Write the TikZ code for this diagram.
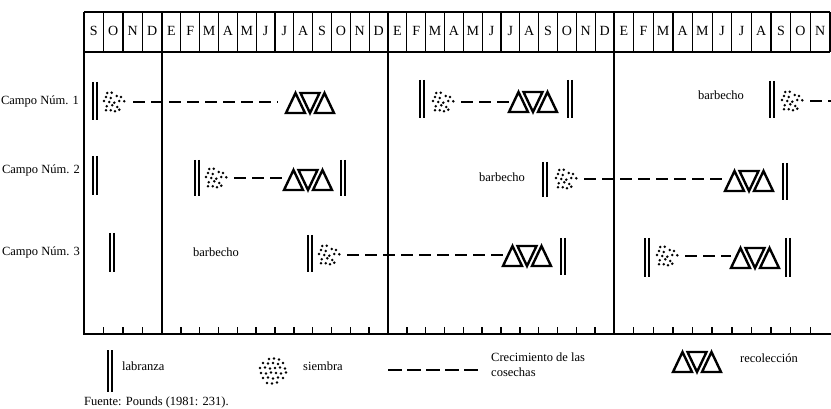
\documentclass[tikz,border=0pt]{standalone}
\usepackage{fontspec}
\setmainfont{Liberation Serif}
\begin{document}
\begin{tikzpicture}[x=1pt,y=-1pt,
  frame/.style={line width=1.6pt},
  yearline/.style={line width=2pt},
  cellline/.style={line width=1.2pt},
  tickline/.style={line width=1.4pt},
  growth/.style={line width=2.3pt, dash pattern=on 12pt off 6pt},
  lbl/.style={font=\fontsize{12.5}{15}\selectfont, inner sep=0pt},
  mon/.style={font=\fontsize{14}{16}\selectfont, inner sep=0pt},
  sowbox/.style={minimum width=36pt, minimum height=22pt, inner sep=0pt},
  tribox/.style={minimum width=48pt, minimum height=20pt, inner sep=0pt},
  pics/laya/.style={code={\draw[line width=1.6pt] (-1.9,0) -- (-1.9,#1) (1.9,0) -- (1.9,#1);}},
  pics/sow/.style={code={\foreach \p in {(-6.7,-9),(-2.3,-9.3),(-8,-5),(-3.3,-4),(2.7,-6),(7,-5),(-10,-1),(-4.7,0),(0.3,0.7),(5.3,-1),(10.3,-0.7),(-7.3,4.3),(-1.7,3.3),(3.3,5),(-8,8.3),(-3.3,8.3),(1,9.3),(5.3,7.7)} \fill \p circle[radius=1.4pt];}},
  pics/sowround/.style={code={\foreach \p in {(-4,-12),(1,-12.5),(6,-11.5),(-10,-8),(-5,-7.5),(0,-8),(5,-7),(10,-8),(-13,-3),(-8,-3.5),(-3,-2.5),(2,-3),(7,-3.5),(12,-2.5),(-12,2),(-7,2.5),(-2,1.5),(3,2),(8,2.5),(13,1.5),(-10,7),(-5,6.5),(0,7.5),(5,6.5),(10,7),(-6,12),(-1,12.5),(4,11.5)} \fill \p circle[radius=1.4pt];}},
  pics/tri/.style={code={\draw[line width=2.4pt, line join=miter]
     (-24,10) -- (-14.5,-10) -- (-5,10) -- cycle
     (-9.5,-10) -- (9.5,-10) -- (0,10) -- cycle
     (5,10) -- (14.5,-10) -- (24,10) -- cycle;}}
]
\useasboundingbox (0,0) rectangle (831,409);

% ---------- frame ----------
\draw[frame] (84,12) -- (830,12);
\draw[frame] (84,52) -- (830,52);
\draw[frame] (830,12) -- (830,52);
\draw[frame] (84,12) -- (84,334);
\draw[frame] (83,334) -- (831,334);
\foreach \x in {162,388,614} \draw[yearline] (\x,12) -- (\x,334);

% ---------- months header and bottom ticks ----------
\foreach \a/\b/\n/\ms [count=\s] in {84/162/4/{S,O,N,D},
    162/388/12/{E,F,M,A,M,J,J,A,S,O,N,D},
    388/614/12/{E,F,M,A,M,J,J,A,S,O,N,D},
    614/830/11/{E,F,M,A,M,J,J,A,S,O,N}}{
  \foreach \m [count=\i] in \ms {
    \node[mon] (h-\s-\i) at ({\a+(\i-0.5)*(\b-\a)/\n},31) {\m};
    \ifnum\i<\n
      \draw[cellline] ({\a+\i*(\b-\a)/\n},12) -- ({\a+\i*(\b-\a)/\n},52);
      \draw[tickline] ({\a+\i*(\b-\a)/\n},327) -- ({\a+\i*(\b-\a)/\n},334);
    \fi
  }
}

% ---------- row labels ----------
\node[lbl, anchor=east] (c1) at (79,101) {Campo Núm. 1};
\node[lbl, anchor=east] (c2) at (80,170) {Campo Núm. 2};
\node[lbl, anchor=east] (c3) at (80,252) {Campo Núm. 3};

% ---------- Row 1 ----------
\pic (b11) at (95,82) {laya=38};
\node[sowbox] (s11) at (114,102) {}; \pic at (s11) {sow};
\node[tribox] (t11) at (310,103) {}; \pic at (t11) {tri};
\draw[growth, shorten >=8pt, shorten <=1pt] (s11.east) -- (s11.east -| t11.west);
\pic (b12) at (422,80) {laya=38};
\node[sowbox] (s12) at (443,102) {}; \pic at (s12) {sow};
\node[tribox] (t12) at (533,102) {}; \pic at (t12) {tri};
\draw[growth] (s12.east) -- (s12.east -| t12.west);
\pic (b13) at (570,80) {laya=38};
\node[lbl] (bb1) at (721,95) {barbecho};
\pic (b14) at (772,81) {laya=37};
\node[sowbox] (s13) at (792,101) {}; \pic at (s13) {sow};
\coordinate (r1end) at (831,101);
\draw[growth] (s13.east) -- (r1end);

% ---------- Row 2 ----------
\pic (b21) at (95,156) {laya=39};
\pic (b22) at (197,160) {laya=36};
\node[sowbox] (s21) at (216,178) {}; \pic at (s21) {sow};
\node[tribox] (t21) at (308,180) {}; \pic at (t21) {tri};
\draw[growth] (s21.east) -- (s21.east -| t21.west);
\pic (b23) at (343,160) {laya=36};
\node[lbl] (bb2) at (502,177) {barbecho};
\pic (b24) at (545,162) {laya=35};
\node[sowbox] (s22) at (566,179) {}; \pic at (s22) {sow};
\node[tribox] (t22) at (749,181) {}; \pic at (t22) {tri};
\draw[growth] (s22.east) -- (s22.east -| t22.west);
\pic (b25) at (785,163) {laya=37};

% ---------- Row 3 ----------
\pic (b31) at (112,233) {laya=39};
\node[lbl] (bb3) at (216,252) {barbecho};
\pic (b32) at (310,235) {laya=37};
\node[sowbox] (s31) at (329,255) {}; \pic at (s31) {sow};
\node[tribox] (t31) at (527,256) {}; \pic at (t31) {tri};
\draw[growth] (s31.east) -- (s31.east -| t31.west);
\pic (b33) at (563,238) {laya=37};
\pic (b34) at (647,238) {laya=39};
\node[sowbox] (s32) at (667,256) {}; \pic at (s32) {sow};
\node[tribox] (t32) at (755,258) {}; \pic at (t32) {tri};
\draw[growth] (s32.east) -- (s32.east -| t32.west);
\pic (b35) at (788,238) {laya=39};

% ---------- legend ----------
\pic (lb) at (110,350) {laya=42};
\node[lbl, anchor=west] (l1) at (122,366) {labranza};
\node[minimum size=30pt, inner sep=0pt] (ls) at (273,371) {}; \pic at (ls) {sowround};
\node[lbl, anchor=west] (l2) at (303,366) {siembra};
\coordinate (lda) at (388,370);
\coordinate (ldb) at (481,370);
\draw[growth, dash pattern=on 14pt off 5pt] (lda) -- (ldb);
\node[lbl, anchor=west, align=left] (l3) at (491,365) {Crecimiento de las\\cosechas};
\node[tribox] (lt) at (697,362) {}; \pic at (lt) {tri};
\node[lbl, anchor=west] (l4) at (740,358) {recolección};

\node[lbl, anchor=west] (src) at (84,402) {Fuente: Pounds (1981: 231).};
\end{tikzpicture}
\end{document}
